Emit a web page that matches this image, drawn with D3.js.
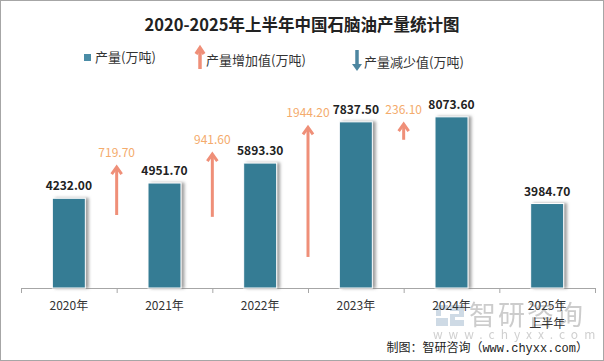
<!DOCTYPE html>
<html>
<head>
<meta charset="utf-8">
<script src="https://cdn.jsdelivr.net/npm/d3@7/dist/d3.min.js"></script>
<style>
  body { margin: 0; background: #fff; }
  svg { display: block; font-family: "Noto Sans CJK SC", "Open Sans", sans-serif; }
</style>
</head>
<body>
<svg width="604" height="361"></svg>
<script>
// data
var years = ["2020年", "2021年", "2022年", "2023年", "2024年", "2025年\n上半年"];
var output = [4232.00, 4951.70, 5893.30, 7837.50, 8073.60, 3984.70];
var increase = [null, 719.70, 941.60, 1944.20, 236.10, null];

var barColor = "#367c94",
    upColor = "#ef8f78",
    upLabel = "#f4ab6c",
    downColor = "#4d86a0";

var svg = d3.select("svg"),
    width = +svg.attr("width"),
    height = +svg.attr("height");

// outer frame
svg.append("rect")
    .attr("x", 0.5).attr("y", 0.5)
    .attr("width", width - 1).attr("height", height - 1)
    .attr("fill", "#fff").attr("stroke", "#a6a6a6");

// drop shadow for bars
var defs = svg.append("defs");
var f = defs.append("filter").attr("id", "shadow")
    .attr("x", "-20%").attr("y", "-10%").attr("width", "160%").attr("height", "120%");
f.append("feDropShadow")
    .attr("dx", 3).attr("dy", 0).attr("stdDeviation", 1.4)
    .attr("flood-color", "#7a7a7a").attr("flood-opacity", 0.7);

// title
svg.append("text")
    .attr("x", 302).attr("y", 31)
    .attr("text-anchor", "middle")
    .style("font-size", "16.5px").style("font-weight", "bold").style("fill", "#222")
    .text("2020-2025年上半年中国石脑油产量统计图");

// scales
var x = d3.scaleBand().domain(years).range([21, 595]);
var y = d3.scaleLinear().domain([0, 9000]).range([288, 97.2]);
// arrow tops sit on a second axis, arrow length on its own scale
var yArrow = d3.scaleLinear().domain([0, 10000]).range([235.2, 97.5]);
var arrowLen = d3.scaleLinear().domain([0, 1000]).range([0, 66.7]);
var barW = 33;

// watermark (behind the labels)
var wm = svg.append("g").attr("opacity", 0.5);
wm.append("path")
    .attr("d", "M436,305h12v5h-7v6h-5z M450,305h14v12h-9v3h9v6h-14v-12h9v-3h-9z M436,318h12v8h-12z")
    .attr("fill", "#9fb6cc");
wm.append("text").attr("x", 469).attr("y", 325)
    .style("font-size", "27px").style("fill", "#9a9a9a").style("letter-spacing", "2px")
    .text("智研咨询");
wm.append("text").attr("x", 433).attr("y", 339)
    .style("font-size", "12px").style("fill", "#a0a0a0").style("letter-spacing", "6px")
    .text("www.chyxx.com");

// x axis
var xAxis = svg.append("g")
    .attr("transform", "translate(0,288)")
    .call(d3.axisBottom(x).tickSize(0).tickFormat(""));
xAxis.select(".domain").attr("stroke", "#a6a6a6");
var tickPos = years.map(function(d) { return x(d); }).concat([x.range()[1]]);
svg.selectAll(".tk").data(tickPos).enter().append("line")
    .attr("x1", function(d) { return d + 0.5; }).attr("x2", function(d) { return d + 0.5; })
    .attr("y1", 288).attr("y2", 293)
    .attr("stroke", "#a6a6a6");

svg.selectAll(".xl").data(years).enter().append("text")
    .attr("text-anchor", "middle")
    .attr("transform", function(d) { return "translate(" + (x(d) + x.bandwidth() / 2) + ",310)"; })
    .style("font-size", "12px").style("fill", "#333")
    .each(function(d) {
      var t = d3.select(this);
      d.split("\n").forEach(function(s, i) {
        t.append("tspan").attr("x", 0).attr("dy", i ? 18 : 0).text(s);
      });
    });

// bars
svg.selectAll(".bar").data(output).enter().append("rect")
    .attr("x", function(d, i) { return x(years[i]) + x.bandwidth() / 2 - barW / 2; })
    .attr("y", function(d) { return y(d); })
    .attr("width", barW)
    .attr("height", function(d) { return y(0) - y(d); })
    .attr("fill", barColor)
    .attr("stroke", "#fff").attr("stroke-width", 1)
    .attr("filter", "url(#shadow)");

svg.selectAll(".bl").data(output).enter().append("text")
    .attr("x", function(d, i) { return x(years[i]) + x.bandwidth() / 2; })
    .attr("y", function(d) { return y(d) - 8; })
    .attr("text-anchor", "middle")
    .style("font-size", "12px").style("font-weight", "bold").style("fill", "#222")
    .text(function(d) { return d.toFixed(2); });

// increase arrows
function upArrow(g, cx, top, bottom, color, sw, hw, hh) {
  g.append("line")
      .attr("x1", cx).attr("x2", cx)
      .attr("y1", top + 1).attr("y2", bottom)
      .attr("stroke", color).attr("stroke-width", sw);
  g.append("path")
      .attr("d", "M" + (cx - hw) + "," + (top + hh) + "L" + cx + "," + top + "L" + (cx + hw) + "," + (top + hh))
      .attr("fill", "none").attr("stroke", color).attr("stroke-width", sw)
      .attr("stroke-linejoin", "miter");
}

var incData = increase.map(function(d, i) { return { v: d, i: i }; })
    .filter(function(d) { return d.v != null; });

var arrows = svg.append("g");
incData.forEach(function(d) {
  var cx = x(years[d.i]);
  var top = yArrow(output[d.i]);
  upArrow(arrows, cx, top, top + arrowLen(d.v), upColor, 3, 5, 7);
  arrows.append("text")
      .attr("x", cx).attr("y", top - 10)
      .attr("text-anchor", "middle")
      .style("font-size", "12px").style("fill", upLabel)
      .text(d.v.toFixed(2));
});

// legend
var lg = svg.append("g").style("font-size", "13px").style("fill", "#333");
lg.append("rect").attr("x", 84).attr("y", 54).attr("width", 7).attr("height", 7).attr("fill", "#4a8ca6");
lg.append("text").attr("x", 95).attr("y", 62).text("产量(万吨)");
upArrow(lg, 200, 48, 69, upColor, 3.5, 4, 6);
lg.append("text").attr("x", 206).attr("y", 65).text("产量增加值(万吨)");
lg.append("line").attr("x1", 357).attr("x2", 357).attr("y1", 50).attr("y2", 66)
    .attr("stroke", downColor).attr("stroke-width", 3.5);
lg.append("path").attr("d", "M352,64L357,71L362,64Z").attr("fill", downColor);
lg.append("text").attr("x", 364).attr("y", 67).text("产量减少值(万吨)");

// source
svg.append("text")
    .attr("x", 588).attr("y", 352)
    .attr("text-anchor", "end")
    .style("font-family", "'Liberation Mono', 'Noto Sans CJK SC', monospace")
    .style("font-size", "12px").style("fill", "#222")
    .text("制图：智研咨询（www.chyxx.com）");
</script>
</body>
</html>
